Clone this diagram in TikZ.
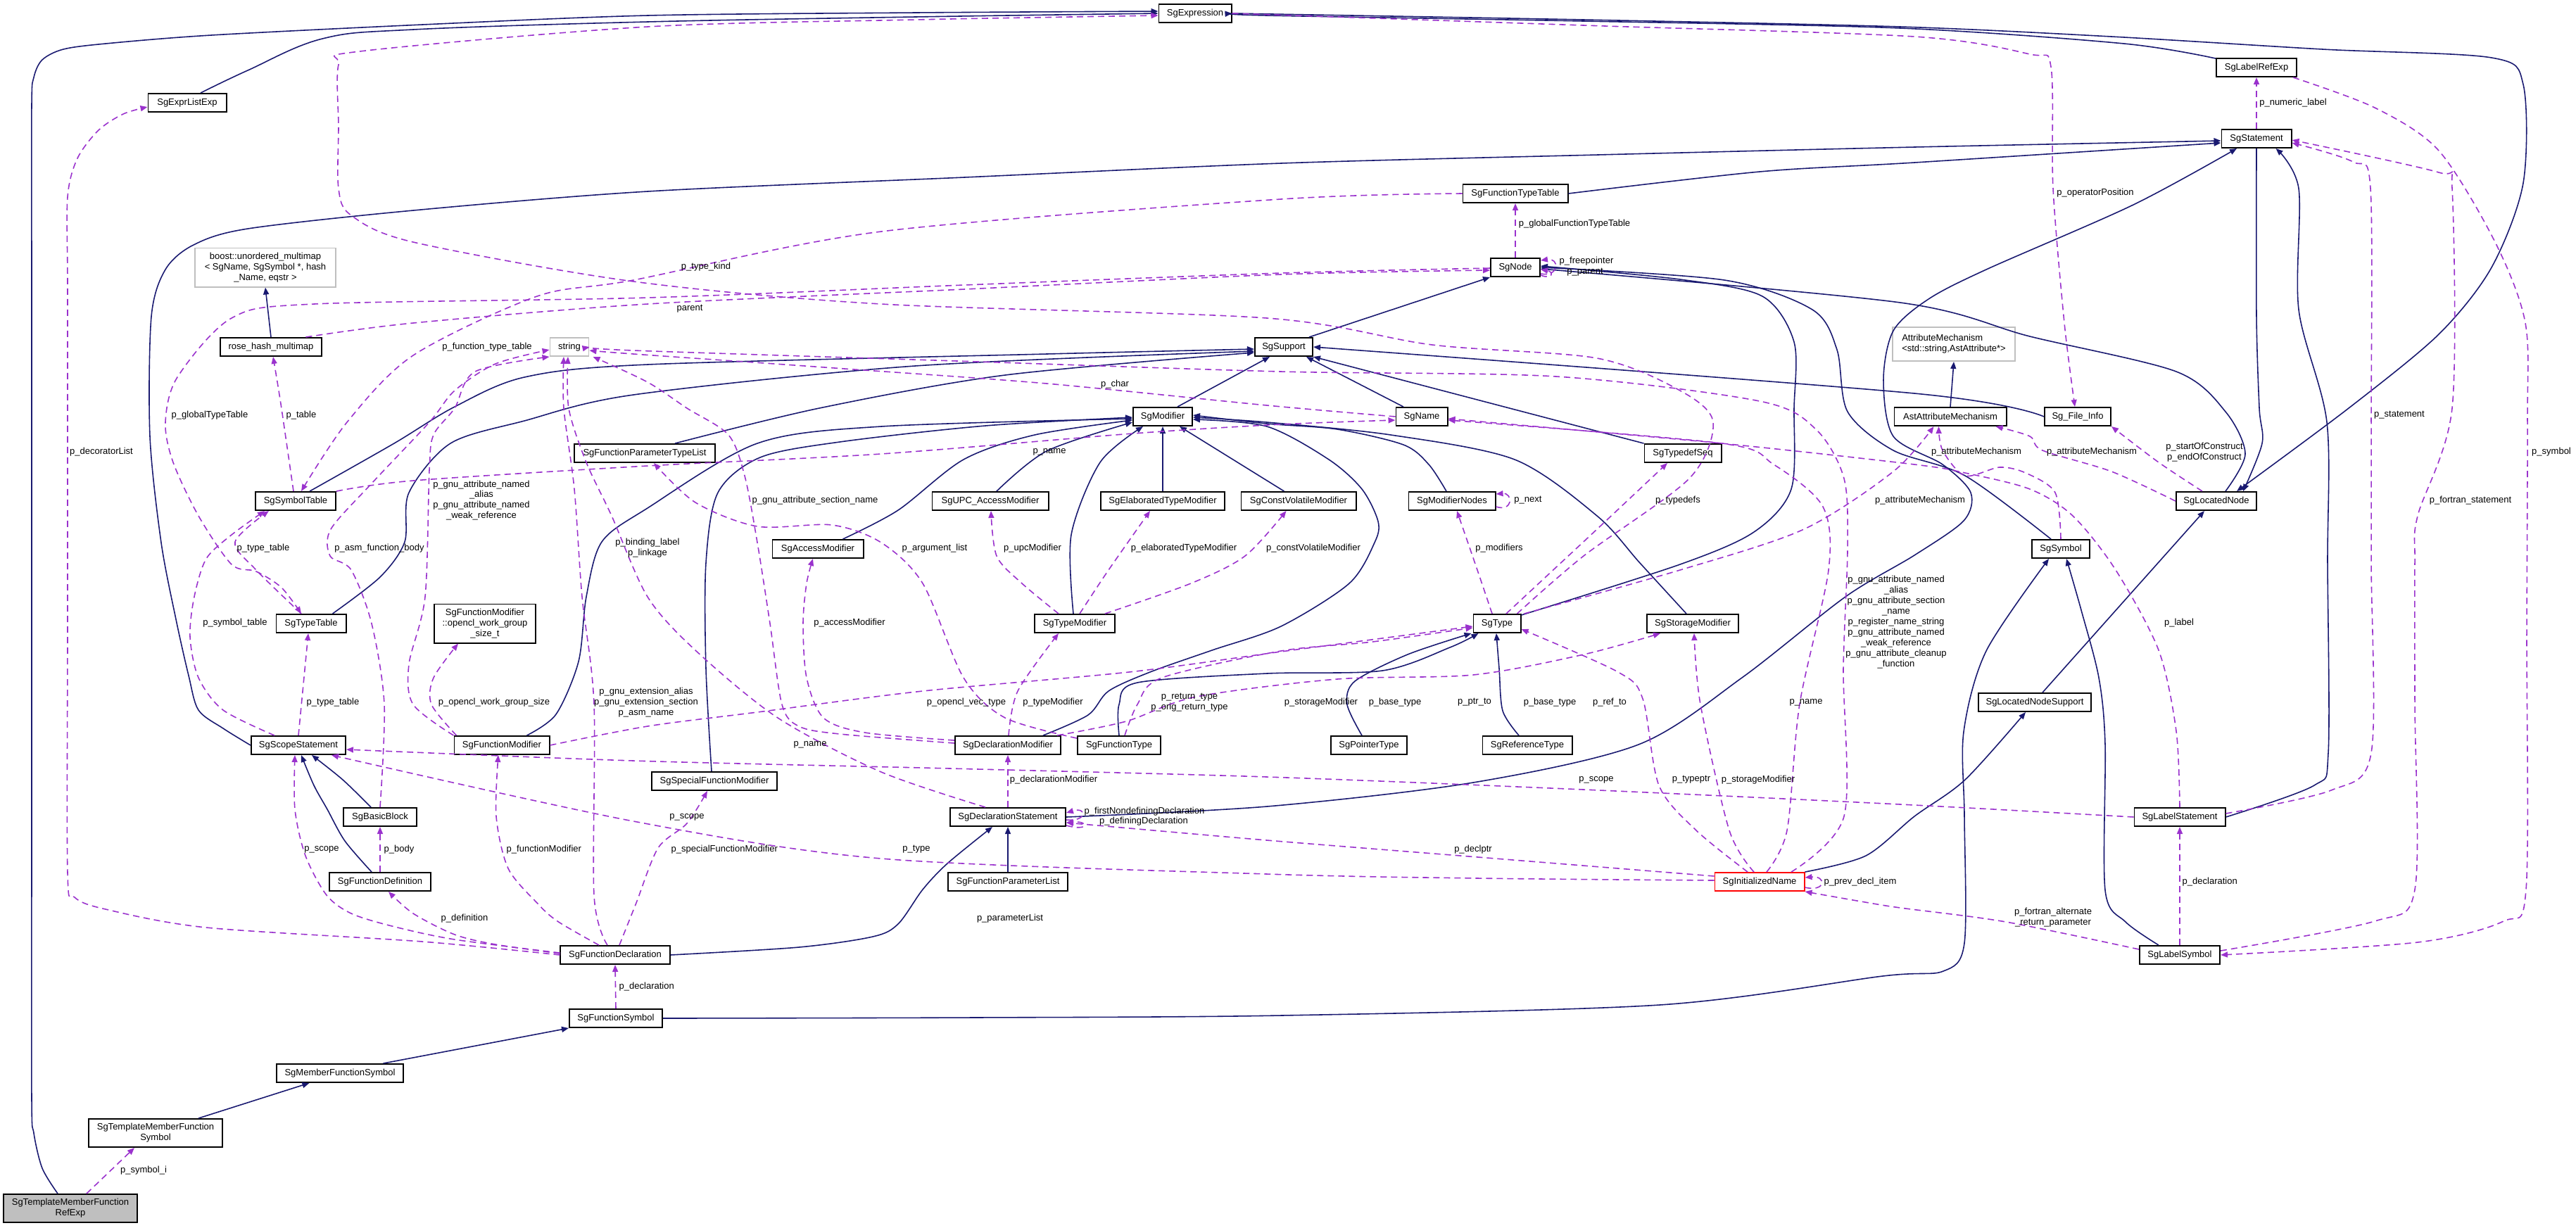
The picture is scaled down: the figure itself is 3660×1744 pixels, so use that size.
\documentclass[tikz,border=0pt]{standalone}
\usepackage{fontspec}
\setmainfont{Liberation Sans}
\usetikzlibrary{arrows.meta, calc}
\definecolor{navy}{HTML}{191970}
\definecolor{orchid}{HTML}{9A32CD}
\newcommand{\dxfont}{\fontsize{3.7}{4.25}\selectfont}

\begin{document}
\begin{tikzpicture}[
    x=0.01cm, y=-0.01cm,
    >={Triangle[length=1mm,width=0.8mm]},
    class node/.style={rectangle,draw=black,fill=white,line width=0.55pt,font=\dxfont,inner sep=0pt,minimum height=0.26cm,align=center},
    ext node/.style={class node,draw=black!25},
    lbl/.style={font=\dxfont,inner sep=0pt,align=center},
    inh/.style={->,draw=navy,line width=0.45pt},
    dep/.style={->,draw=orchid,line width=0.45pt,dash pattern=on 0.09cm off 0.06cm}
]
\useasboundingbox (0,0) rectangle (3660,1744);

% classes
\node[class node, minimum width=1.03cm] (expr) at (1698,19) {SgExpression};
\node[class node, minimum width=1.11cm] (exprlist) at (266,146) {SgExprListExp};
\node[class node, minimum width=1.14cm] (labelref) at (3206,96) {SgLabelRefExp};
\node[class node, minimum width=0.99cm] (stmt) at (3206,197) {SgStatement};
\node[class node, minimum width=1.49cm] (ftypetable) at (2153,275) {SgFunctionTypeTable};
\node[class node, minimum width=0.70cm] (sgnode) at (2153,380) {SgNode};
\node[ext node, minimum width=1.99cm, minimum height=0.55cm] (boostmap) at (377,380) {boost::unordered\_multimap\\< SgName, SgSymbol *, hash\\\_Name, eqstr >};
\node[class node, minimum width=1.43cm] (rosehash) at (385,493) {rose\_hash\_multimap};
\node[ext node, minimum width=0.55cm] (string) at (809,493) {string};
\node[class node, minimum width=0.82cm] (support) at (1824,493) {SgSupport};
\node[ext node, minimum width=1.74cm, minimum height=0.48cm, align=left] (attrmech) at (2776,489) {AttributeMechanism\\<std::string,AstAttribute*>};
\node[class node, minimum width=0.84cm] (modifier) at (1652,592) {SgModifier};
\node[class node, minimum width=0.73cm] (sgname) at (2020,592) {SgName};
\node[class node, minimum width=1.59cm] (astattr) at (2771,592) {AstAttributeMechanism};
\node[class node, minimum width=0.94cm] (fileinfo) at (2952,592) {Sg\_File\_Info};
\node[class node, minimum width=1.99cm] (fptl) at (916,644) {SgFunctionParameterTypeList};
\node[class node, minimum width=1.09cm] (typedefseq) at (2391,644) {SgTypedefSeq};
\node[class node, minimum width=1.14cm] (symtab) at (420,712) {SgSymbolTable};
\node[class node, minimum width=1.65cm] (upcmod) at (1407,712) {SgUPC\_AccessModifier};
\node[class node, minimum width=1.76cm] (elabmod) at (1652,712) {SgElaboratedTypeModifier};
\node[class node, minimum width=1.63cm] (cvmod) at (1845,712) {SgConstVolatileModifier};
\node[class node, minimum width=1.23cm] (modnodes) at (2063,712) {SgModifierNodes};
\node[class node, minimum width=1.14cm] (locnode) at (3149,712) {SgLocatedNode};
\node[class node, minimum width=1.29cm] (accmod) at (1162,780) {SgAccessModifier};
\node[class node, minimum width=0.82cm] (symbol) at (2928,780) {SgSymbol};
\node[class node, minimum width=0.99cm] (typetab) at (442,886) {SgTypeTable};
\node[class node, minimum width=1.43cm, minimum height=0.55cm] (openclsize) at (689,886) {SgFunctionModifier\\::opencl\_work\_group\\\_size\_t};
\node[class node, minimum width=1.14cm] (typemod) at (1527,886) {SgTypeModifier};
\node[class node, minimum width=0.67cm] (sgtype) at (2127,886) {SgType};
\node[class node, minimum width=1.30cm] (storagemod) at (2405,886) {SgStorageModifier};
\node[class node, minimum width=1.60cm] (locsupport) at (2891,998) {SgLocatedNodeSupport};
\node[class node, minimum width=1.34cm] (scopestmt) at (424,1059) {SgScopeStatement};
\node[class node, minimum width=1.35cm] (funcmod) at (713,1059) {SgFunctionModifier};
\node[class node, minimum width=1.50cm] (declmod) at (1432,1059) {SgDeclarationModifier};
\node[class node, minimum width=1.18cm] (functype) at (1590,1059) {SgFunctionType};
\node[class node, minimum width=1.08cm] (ptrtype) at (1945,1059) {SgPointerType};
\node[class node, minimum width=1.27cm] (reftype) at (2170,1059) {SgReferenceType};
\node[class node, minimum width=1.78cm] (specfmod) at (1015,1110) {SgSpecialFunctionModifier};
\node[class node, minimum width=1.04cm] (basicblock) at (540,1161) {SgBasicBlock};
\node[class node, minimum width=1.64cm] (declstmt) at (1432,1161) {SgDeclarationStatement};
\node[class node, minimum width=1.29cm] (labelstmt) at (3097,1161) {SgLabelStatement};
\node[class node, minimum width=1.43cm] (funcdef) at (540,1253) {SgFunctionDefinition};
\node[class node, minimum width=1.70cm] (fparlist) at (1432,1253) {SgFunctionParameterList};
\node[class node, minimum width=1.27cm, draw=red] (initname) at (2500,1253) {SgInitializedName};
\node[class node, minimum width=1.55cm] (funcdecl) at (874,1357) {SgFunctionDeclaration};
\node[class node, minimum width=1.14cm] (labelsym) at (3097,1357) {SgLabelSymbol};
\node[class node, minimum width=1.32cm] (funcsym) at (875,1447) {SgFunctionSymbol};
\node[class node, minimum width=1.79cm] (memfuncsym) at (483,1525) {SgMemberFunctionSymbol};
\node[class node, minimum width=1.89cm, minimum height=0.40cm] (tmfsym) at (221,1610) {SgTemplateMemberFunction\\Symbol};
\node[class node, minimum width=1.89cm, minimum height=0.40cm, fill=black!25] (focusnode) at (100,1717) {SgTemplateMemberFunction\\RefExp};

% inheritance
\draw[inh] plot[smooth,tension=.6] coordinates {($(exprlist.north)+(19,0)$) (352,100) (458,55) (587,42) (920,31) (1300,24) (expr.west)};
\draw[inh] plot[smooth,tension=.5] coordinates {($(focusnode.north)+(-18,0)$) (60,1660) (48,1610) (45,1560) (45,1200) (45,800) (45,400) (45,150) (48,110) (60,85) (90,70) (150,62) (300,50) (600,35) (920,22) (1300,18) ($(expr.west)+(0,-3)$)};
\draw[inh] plot[smooth,tension=.5] coordinates {($(labelref.north west)+(0,1)$) (3018,62) (2700,40) (2250,30) (1800,22) (expr.east)};
\draw[inh] plot[smooth,tension=.5] coordinates {(expr.east) (2250,28) (2700,38) (3000,52) (3300,70) (3540,82) (3585,120) (3585,260) (3540,380) (3465,475) (3337,580) ($(locnode.north)+(29,0)$)};
\draw[inh] plot[smooth,tension=.5] coordinates {(stmt.south) (3206,450) (3210,580) (3214,630) ($(locnode.north east)+(-20,0)$)};
\draw[inh] plot[smooth,tension=.5] coordinates {($(locnode.north)+(13,0)$) (3190,645) (3162,585) (3092,528) (2884,478) (2700,430) ($(sgnode.east)+(0,2)$)};
\draw[inh] ($(locsupport.north)+(11,0)$) -- ($(locnode.south)+(-17,0)$);
\draw[inh] ($(support.north east)+(-6,0)$) -- (sgnode.south west);
\draw[inh] plot[smooth,tension=.5] coordinates {($(sgtype.north east)+(0,2)$) (2387,802) (2492,756) (2545,695) (2549,580) (2549,486) (2504,421) (2387,397) ($(sgnode.east)+(0,-2)$)};
\draw[inh] plot[smooth,tension=.5] coordinates {($(symbol.north)+(-14,0)$) (2792,676) (2690,640) (2625,585) (2610,497) (2575,440) (2450,398) (sgnode.east)};
\draw[inh] ($(modifier.north east)+(-22,0)$) -- ($(support.south west)+(22,0)$);
\draw[inh] ($(sgname.north)+(-26,0)$) -- ($(support.south)+(32,0)$);
\draw[inh] (typedefseq.north west) -- (support.south east);
\draw[inh] plot[smooth,tension=.5] coordinates {(fileinfo.west) (2720,559) (support.east)};
\draw[inh] plot[smooth,tension=.5] coordinates {($(symtab.north east)+(-38,0)$) (560,630) (646,578) (745,536) (920,518) (1487,503) ($(support.west)+(0,3)$)};
\draw[inh] plot[smooth,tension=.5] coordinates {($(typetab.north east)+(-20,0)$) (540,820) (575,770) (581,700) (640,630) (745,598) (900,561) (1300,520) ($(support.west)+(0,6)$)};
\draw[inh] plot[smooth,tension=.5] coordinates {($(fptl.north)+(43,0)$) (1164,580) (1428,533) ($(support.west)+(0,8)$)};
\draw[inh] (rosehash.north) -- (boostmap.south);
\draw[inh] (astattr.north) -- (attrmech.south);
\draw[inh] plot[smooth,tension=.5] coordinates {($(funcmod.north east)+(-33,0)$) (790,1015) (822,940) (833,848) (855,770) (920,722) (1076,630) (1252,606) ($(modifier.west)+(0,3)$)};
\draw[inh] plot[smooth,tension=.5] coordinates {($(specfmod.north)+(-4,0)$) (1003,950) (1003,800) (1020,700) (1080,650) (1193,628) (1400,605) ($(modifier.west)+(0,1)$)};
\draw[inh] plot[smooth,tension=.5] coordinates {($(accmod.north east)+(-30,0)$) (1276,725) (1369,653) (1470,618) ($(modifier.west)+(0,5)$)};
\draw[inh] plot[smooth,tension=.5] coordinates {($(upcmod.north)+(9,0)$) (1487,641) ($(modifier.west)+(0,8)$)};
\draw[inh] plot[smooth,tension=.5] coordinates {($(typemod.north)+(-2,0)$) (1522,760) (1563,657) ($(modifier.south west)+(15,0)$)};
\draw[inh] (elabmod.north) -- (modifier.south);
\draw[inh] ($(cvmod.north west)+(62,0)$) -- ($(modifier.south east)+(-19,0)$);
\draw[inh] plot[smooth,tension=.5] coordinates {($(declmod.north east)+(-26,0)$) (1546,1016) (1575,982) (1634,955) (1722,924) (1820,890) (1917,829) (1953,771) (1958,741) (1935,695) (1888,653) (1800,606) ($(modifier.east)+(0,4)$)};
\draw[inh] plot[smooth,tension=.5] coordinates {($(storagemod.north)+(-9,0)$) (2330,800) (2269,733) (2152,653) (1976,618) (1800,600) ($(modifier.east)+(0,1)$)};
\draw[inh] plot[smooth,tension=.5] coordinates {($(modnodes.north)+(-8,0)$) (2030,660) (1994,632) (1900,610) (1800,602) ($(modifier.east)+(0,-2)$)};
\draw[inh] plot[smooth,tension=.5] coordinates {($(ptrtype.north)+(-10,0)$) (1914,1001) (1925,968) (2000,930) ($(sgtype.south west)+(-2,0)$)};
\draw[inh] plot[smooth,tension=.5] coordinates {($(reftype.north)+(-12,0)$) (2135,1010) (2130,950) ($(sgtype.south)+(-1,0)$)};
\draw[inh] plot[smooth,tension=.5] coordinates {(functype.north) (1590,1001) (1616,970) (1800,957) (1964,953) (2060,920) ($(sgtype.south west)+(8,0)$)};
\draw[inh] plot[smooth,tension=.5] coordinates {(declstmt.east) (1800,1146) (2093,1112) (2328,1058) (2475,963) (2622,848) (2720,789) (2790,740) (2800,700) (2760,660) (2690,620) (2676,540) (2690,470) (2740,425) (2822,383) (3031,291) ($(stmt.south)+(-28,0)$)};
\draw[inh] plot[smooth,tension=.5] coordinates {(scopestmt.west) (317,1035) (282,1009) (268,960) (250,880) (229,771) (213,620) (215,450) (235,383) (275,348) (352,325) (587,299) (920,272) (1370,252) (1820,232) (2270,220) (2720,209) ($(stmt.west)+(0,3)$)};
\draw[inh] plot[smooth,tension=.5] coordinates {(ftypetable.east) (2500,244) (2720,231) ($(stmt.west)+(0,6)$)};
\draw[inh] plot[smooth,tension=.5] coordinates {(labelstmt.east) (3288,1116) (3308,1070) (3307,800) (3306,600) (3266,440) (3266,268) ($(stmt.south east)+(-23,0)$)};
\draw[inh] plot[smooth,tension=.5] coordinates {($(labelsym.north)+(-30,0)$) (3020,1310) (2991,1265) (2991,1058) (2982,963) (2957,867) ($(symbol.south)+(8,0)$)};
\draw[inh] plot[smooth,tension=.5] coordinates {(funcsym.east) (1380,1446) (1820,1443) (2358,1428) (2675,1387) (2761,1380) (2791,1340) (2791,1160) (2790,1040) (2822,925) ($(symbol.south)+(-17,0)$)};
\draw[inh] ($(memfuncsym.north east)+(-29,0)$) -- (funcsym.south west);
\draw[inh] ($(tmfsym.north)+(61,0)$) -- ($(memfuncsym.south west)+(47,0)$);
\draw[inh] plot[smooth,tension=.5] coordinates {($(funcdef.north)+(-12,0)$) (490,1195) (465,1150) (446,1116) ($(scopestmt.south)+(4,0)$)};
\draw[inh] plot[smooth,tension=.5] coordinates {($(basicblock.north)+(-13,0)$) (487,1108) ($(scopestmt.south)+(19,0)$)};
\draw[inh] (fparlist.north) -- (declstmt.south);
\draw[inh] plot[smooth,tension=.5] coordinates {(funcdecl.east) (1135,1346) (1240,1331) (1276,1313) (1311,1264) (1346,1227) ($(declstmt.south)+(-22,0)$)};
\draw[inh] plot[smooth,tension=.5] coordinates {(initname.north east) (2651,1216) (2720,1160) (2792,1108) ($(locsupport.south)+(-13,0)$)};

% members
\draw[dep] ($(focusnode.north)+(23,0)$) -- ($(tmfsym.south)+(-30,0)$);
\draw[dep] plot[smooth,tension=.5] coordinates {(funcdecl.west) (600,1338) (293,1318) (150,1292) (106,1275) (96,1240) (96,900) (96,600) (96,400) (96,280) (110,225) (140,185) (175,162) ($(exprlist.west)+(0,6)$)};
\draw[dep] (funcsym.north) -- (funcdecl.south);
\draw[dep] plot[smooth,tension=.5] coordinates {($(funcdecl.west)+(0,-2)$) (704,1342) (646,1328) (587,1298) ($(funcdef.south)+(12,0)$)};
\draw[dep] plot[smooth,tension=.5] coordinates {($(funcdecl.west)+(0,-3)$) (646,1335) (557,1316) (499,1298) (464,1272) (434,1216) (419,1150) ($(scopestmt.south)+(-5,0)$)};
\draw[dep] (funcdef.north) -- (basicblock.south);
\draw[dep] plot[smooth,tension=.5] coordinates {($(funcdecl.north)+(-23,0)$) (792,1309) (763,1283) (722,1234) (705,1160) ($(funcmod.south)+(-5,0)$)};
\draw[dep] plot[smooth,tension=.5] coordinates {($(funcdecl.north)+(6,0)$) (904,1283) (935,1205) (976,1170) ($(specfmod.south)+(-10,0)$)};
\draw[dep] plot[smooth,tension=.5] coordinates {($(funcdecl.north)+(-11,0)$) (844,1272) (844,1001) (827,848) (816,695) (801,580) ($(string.south)+(-8,0)$)};
\draw[dep] plot[smooth,tension=.5] coordinates {($(declstmt.north)+(-32,0)$) (1252,1097) (1105,1020) (988,924) (920,848) (869,733) (833,657) (808,580) ($(string.south)+(-2,0)$)};
\draw[dep] plot[smooth,tension=.5] coordinates {($(declmod.west)+(0,-3)$) (1193,1043) (1135,1032) (1111,1001) (1094,886) (1076,771) (1058,676) (1035,618) (976,580) (920,543) ($(string.south east)+(5,0)$)};
\draw[dep] plot[smooth,tension=.5] coordinates {($(declmod.west)+(0,-7)$) (1229,1041) (1170,1020) (1146,963) (1141,886) (1146,829) ($(accmod.south)+(-7,0)$)};
\draw[dep] plot[smooth,tension=.5] coordinates {($(declmod.north)+(1,0)$) (1446,982) ($(typemod.south)+(-23,0)$)};
\draw[dep] plot[smooth,tension=.5] coordinates {($(declmod.north east)+(-6,0)$) (1600,1025) (1700,990) (1900,965) (2093,959) (2250,930) ($(storagemod.south west)+(20,0)$)};
\draw[dep] (declstmt.north) -- (declmod.south);
\draw[dep] ($(declstmt.east)+(0,4)$) .. controls (1545,1168) and (1545,1146) .. ($(declstmt.east)+(0,-6)$);
\draw[dep] ($(declstmt.south east)+(0,-2)$) .. controls (1548,1182) and (1548,1166) .. ($(declstmt.east)+(0,8)$);
\draw[dep] plot[smooth,tension=.5] coordinates {($(initname.west)+(0,-8)$) (2100,1218) (1800,1194) ($(declstmt.east)+(0,8)$)};
\draw[dep] plot[smooth,tension=.5] coordinates {($(initname.west)+(0,-2)$) (2100,1248) (1800,1242) (1252,1220) (900,1167) ($(scopestmt.south east)+(-21,0)$)};
\draw[dep] plot[smooth,tension=.5] coordinates {(labelstmt.west) (2700,1143) (2250,1122) (1800,1104) (1350,1092) (900,1081) ($(scopestmt.east)+(0,6)$)};
\draw[dep] ($(initname.east)+(0,8)$) .. controls (2595,1268) and (2595,1244) .. ($(initname.east)+(0,-6)$);
\draw[dep] plot[smooth,tension=.5] coordinates {($(labelsym.west)+(0,-8)$) (2850,1310) (2700,1290) (2650,1282) (initname.south east)};
\draw[dep] plot[smooth,tension=.5] coordinates {($(initname.north)+(-17,0)$) (2410,1180) (2357,1116) (2334,993) (2299,955) ($(sgtype.east)+(0,8)$)};
\draw[dep] plot[smooth,tension=.5] coordinates {($(initname.north)+(-8,0)$) (2457,1180) (2416,1001) ($(storagemod.south)+(2,0)$)};
\draw[dep] plot[smooth,tension=.5] coordinates {($(initname.north)+(10,0)$) (2539,1180) (2557,1000) (2598,810) (2590,720) (2520,660) (2446,630) ($(sgname.east)+(0,5)$)};
\draw[dep] plot[smooth,tension=.5] coordinates {($(initname.north)+(45,0)$) (2620,1160) (2619,950) (2625,780) (2620,680) (2580,610) (2500,570) (2211,535) (1820,528) (1360,513) (900,498) (string.east)};
\draw[dep] plot[smooth,tension=.5] coordinates {(sgname.west) (1800,576) (1487,545) (1200,524) (900,503) ($(string.east)+(0,5)$)};
\draw[dep] plot[smooth,tension=.5] coordinates {(funcmod.north west) (587,1001) (581,944) (604,848) (610,668) (616,618) (646,580) (675,528) (string.south west)};
\draw[dep] plot[smooth,tension=.5] coordinates {($(funcmod.north west)+(4,0)$) (613,1001) (616,963) ($(openclsize.south)+(-38,0)$)};
\draw[dep] plot[smooth,tension=.5] coordinates {(funcmod.east) (920,1032) (1076,1012) (1311,982) (1604,955) (1820,926) ($(sgtype.west)+(0,4)$)};
\draw[dep] plot[smooth,tension=.5] coordinates {($(functype.north)+(8,0)$) (1616,1001) (1651,963) (1820,925) (1950,912) ($(sgtype.west)+(0,6)$)};
\draw[dep] plot[smooth,tension=.5] coordinates {($(functype.west)+(0,-10)$) (1428,1020) (1369,963) (1311,829) (1252,771) (1182,746) (1076,748) (988,714) ($(fptl.south)+(13,0)$)};
\draw[dep] plot[smooth,tension=.5] coordinates {($(typemod.north)+(-23,0)$) (1452,829) (1416,790) ($(upcmod.south)+(1,0)$)};
\draw[dep] plot[smooth,tension=.5] coordinates {($(typemod.north)+(7,0)$) (1575,810) ($(elabmod.south)+(-18,0)$)};
\draw[dep] plot[smooth,tension=.5] coordinates {($(typemod.north east)+(-15,0)$) (1692,829) (1769,790) ($(cvmod.south west)+(65,0)$)};
\draw[dep] plot[smooth,tension=.5] coordinates {($(sgtype.north)+(-7,0)$) (2099,810) ($(modnodes.south)+(7,0)$)};
\draw[dep] ($(modnodes.east)+(0,8)$) .. controls (2150,728) and (2150,700) .. ($(modnodes.north east)+(0,4)$);
\draw[dep] plot[smooth,tension=.5] coordinates {($(sgtype.north)+(13,0)$) (2269,752) ($(typedefseq.south)+(-22,0)$)};
\draw[dep] plot[smooth,tension=.5] coordinates {($(sgtype.north east)+(4,0)$) (2387,810) (2563,752) (2690,670) ($(astattr.south west)+(57,0)$)};
\draw[dep] plot[smooth,tension=.5] coordinates {(symbol.north) (2920,700) (2878,672) (2841,664) (2792,676) (2760,640) ($(astattr.south west)+(64,0)$)};
\draw[dep] plot[smooth,tension=.5] coordinates {(locnode.west) (3000,670) (2902,640) (2884,620) ($(astattr.south east)+(-16,0)$)};
\draw[dep] plot[smooth,tension=.5] coordinates {($(locnode.north)+(-20,0)$) (3067,657) (fileinfo.south east)};
\draw[dep] plot[smooth,tension=.5] coordinates {(labelstmt.north) (3092,1039) (3067,924) (3006,810) (2945,733) (2884,695) (2792,672) (2720,660) (2446,630) ($(sgname.east)+(0,3)$)};
\draw[dep] plot[smooth,tension=.5] coordinates {($(labelstmt.east)+(0,-5)$) (3312,1123) (3369,1070) (3369,800) (3369,600) (3368,268) (3343,230) ($(stmt.east)+(0,6)$)};
\draw[dep] plot[smooth,tension=.5] coordinates {($(labelsym.east)+(0,-6)$) (3374,1309) (3431,1264) (3431,1000) (3431,800) (3435,733) (3484,580) (3484,268) (3465,245) ($(stmt.east)+(0,2)$)};
\draw[dep] plot[smooth,tension=.5] coordinates {($(labelref.south east)+(-6,0)$) (3374,153) (3465,214) (3545,344) (3588,459) (3591,600) (3590,900) (3589,1264) (3557,1309) (3435,1339) (labelsym.east)};
\draw[dep] (stmt.north) -- (labelref.south);
\draw[dep] plot[smooth,tension=.5] coordinates {(expr.east) (2250,36) (2720,52) (2884,77) (2914,95) (2917,268) (2933,459) ($(fileinfo.north)+(-4,0)$)};
\draw[dep] (labelsym.north) -- (labelstmt.south);
\draw[dep] (sgnode.north) -- (ftypetable.south);
\draw[dep] ($(sgnode.east)+(0,9)$) .. controls (2216,394) and (2216,366) .. ($(sgnode.north east)+(0,4)$);
\draw[dep] ($(sgnode.east)+(0,11)$) .. controls (2206,398) and (2208,386) .. ($(sgnode.east)+(0,3)$);
\draw[dep] plot[smooth,tension=.5] coordinates {($(rosehash.north east)+(-23,0)$) (587,459) (920,432) (1370,411) (1820,390) ($(sgnode.west)+(0,4)$)};
\draw[dep] plot[smooth,tension=.5] coordinates {($(sgnode.west)+(0,1)$) (1820,388) (1370,405) (920,423) (446,432) (329,452) (252,536) (235,600) (246,657) (282,733) (329,802) (364,812) (400,835) ($(typetab.north)+(-14,0)$)};
\draw[dep] plot[smooth,tension=.5] coordinates {($(symtab.north)+(-3,0)$) (399,574) ($(rosehash.south)+(3,0)$)};
\draw[dep] plot[smooth,tension=.5] coordinates {(ftypetable.west) (1820,283) (1252,329) (900,398) (763,421) (587,505) (493,600) ($(symtab.north)+(8,0)$)};
\draw[dep] plot[smooth,tension=.5] coordinates {($(sgtype.north east)+(-6,0)$) (2250,790) (2400,680) (2434,600) (2387,555) (2269,509) (2035,490) (1800,452) (1252,432) (900,400) (587,344) (499,306) (481,268) (481,180) (481,92) (511,73) (920,38) (1300,28) ($(expr.west)+(0,3)$)};
\draw[dep] plot[smooth,tension=.5] coordinates {($(scopestmt.north)+(-34,0)$) (317,1009) (282,963) (270,905) (276,848) (293,794) (329,760) ($(symtab.south)+(-44,0)$)};
\draw[dep] plot[smooth,tension=.5] coordinates {($(typetab.north)+(-14,0)$) (364,810) (334,770) ($(symtab.south)+(-38,0)$)};
\draw[dep] (scopestmt.north) -- ($(typetab.south)+(-4,0)$);
\draw[dep] plot[smooth,tension=.5] coordinates {(basicblock.north) (546,1001) (528,886) (499,810) (469,790) (470,752) (528,687) (610,600) (646,555) (704,517) ($(string.west)+(0,4)$)};
\draw[dep] plot[smooth,tension=.5] coordinates {($(symtab.north east)+(0,0)$) (587,683) (920,662) (1252,645) (1610,616) (1820,603) ($(sgname.west)+(0,5)$)};

% labels
\node[lbl] (l_symi) at (204,1663) {p\_symbol\_i};
\node[lbl] (l_decor) at (144,642) {p\_decoratorList};
\node[lbl, anchor=west] (l_decl) at (879,1402) {p\_declaration};
\node[lbl] (l_defn) at (660,1305) {p\_definition};
\node[lbl] (l_scope1) at (457,1207) {p\_scope};
\node[lbl, anchor=west] (l_body) at (545,1207) {p\_body};
\node[lbl, anchor=west] (l_fmod) at (719,1207) {p\_functionModifier};
\node[lbl, anchor=west] (l_sfm) at (953,1207) {p\_specialFunctionModifier};
\node[lbl] (l_type) at (1302,1207) {p\_type};
\node[lbl] (l_parlist) at (1435,1305) {p\_parameterList};
\node[lbl] (l_declptr) at (2093,1207) {p\_declptr};
\node[lbl] (l_prev) at (2643,1253) {p\_prev\_decl\_item};
\node[lbl] (l_fortalt) at (2917,1304) {p\_fortran\_alternate\\\_return\_parameter};
\node[lbl, anchor=west] (l_ldecl) at (3100,1253) {p\_declaration};
\node[lbl] (l_scope2) at (976,1161) {p\_scope};
\node[lbl] (l_firstnd) at (1626,1153) {p\_firstNondefiningDeclaration};
\node[lbl] (l_defdecl) at (1625,1167) {p\_definingDeclaration};
\node[lbl] (l_declmod) at (1497,1108) {p\_declarationModifier};
\node[lbl] (l_scope3) at (2268,1108) {p\_scope};
\node[lbl] (l_typeptr) at (2403,1108) {p\_typeptr};
\node[lbl] (l_stor2) at (2498,1108) {p\_storageModifier};
\node[lbl] (l_typetable2) at (473,998) {p\_type\_table};
\node[lbl] (l_oclsize) at (702,998) {p\_opencl\_work\_group\_size};
\node[lbl] (l_gnuext) at (918,998) {p\_gnu\_extension\_alias\\p\_gnu\_extension\_section\\p\_asm\_name};
\node[lbl] (l_oclvec) at (1373,998) {p\_opencl\_vec\_type};
\node[lbl] (l_tmod) at (1496,998) {p\_typeModifier};
\node[lbl] (l_ret) at (1690,998) {p\_return\_type\\p\_orig\_return\_type};
\node[lbl] (l_stor1) at (1877,998) {p\_storageModifier};
\node[lbl] (l_base1) at (1982,998) {p\_base\_type};
\node[lbl] (l_ptr) at (2095,998) {p\_ptr\_to};
\node[lbl] (l_base2) at (2202,998) {p\_base\_type};
\node[lbl] (l_ref) at (2287,998) {p\_ref\_to};
\node[lbl] (l_name3) at (2566,998) {p\_name};
\node[lbl] (l_name2) at (1151,1058) {p\_name};
\node[lbl] (l_symtab) at (334,885) {p\_symbol\_table};
\node[lbl] (l_accmod) at (1207,885) {p\_accessModifier};
\node[lbl] (l_label) at (3096,885) {p\_label};
\node[lbl] (l_gnuattr) at (2694,884) {p\_gnu\_attribute\_named\\\_alias\\p\_gnu\_attribute\_section\\\_name\\p\_register\_name\_string\\p\_gnu\_attribute\_named\\\_weak\_reference\\p\_gnu\_attribute\_cleanup\\\_function};
\node[lbl] (l_typetable1) at (374,779) {p\_type\_table};
\node[lbl] (l_asmbody) at (539,779) {p\_asm\_function\_body};
\node[lbl] (l_binding) at (920,779) {p\_binding\_label\\p\_linkage};
\node[lbl] (l_arglist) at (1328,779) {p\_argument\_list};
\node[lbl] (l_upc) at (1467,779) {p\_upcModifier};
\node[lbl] (l_elab) at (1682,779) {p\_elaboratedTypeModifier};
\node[lbl] (l_cv) at (1866,779) {p\_constVolatileModifier};
\node[lbl] (l_mods) at (2130,779) {p\_modifiers};
\node[lbl] (l_gnunamed) at (684,711) {p\_gnu\_attribute\_named\\\_alias\\p\_gnu\_attribute\_named\\\_weak\_reference};
\node[lbl] (l_gnusect) at (1158,711) {p\_gnu\_attribute\_section\_name};
\node[lbl] (l_next) at (2171,711) {p\_next};
\node[lbl] (l_typedefs) at (2384,711) {p\_typedefs};
\node[lbl] (l_attr1) at (2728,711) {p\_attributeMechanism};
\node[lbl] (l_fstmt) at (3510,711) {p\_fortran\_statement};
\node[lbl] (l_name1) at (1491,642) {p\_name};
\node[lbl] (l_attr2) at (2808,642) {p\_attributeMechanism};
\node[lbl] (l_attr3) at (2972,642) {p\_attributeMechanism};
\node[lbl] (l_soc) at (3132,643) {p\_startOfConstruct\\p\_endOfConstruct};
\node[lbl] (l_symbol) at (3625,642) {p\_symbol};
\node[lbl] (l_gtt) at (298,590) {p\_globalTypeTable};
\node[lbl] (l_table) at (428,590) {p\_table};
\node[lbl] (l_stmt) at (3409,590) {p\_statement};
\node[lbl] (l_char) at (1584,546) {p\_char};
\node[lbl] (l_ftt) at (692,493) {p\_function\_type\_table};
\node[lbl] (l_parent) at (980,439) {parent};
\node[lbl] (l_typekind) at (1003,379) {p\_type\_kind};
\node[lbl] (l_free) at (2254,371) {p\_freepointer};
\node[lbl] (l_par) at (2252,387) {p\_parent};
\node[lbl] (l_gftt) at (2237,318) {p\_globalFunctionTypeTable};
\node[lbl] (l_oppos) at (2977,274) {p\_operatorPosition};
\node[lbl] (l_numlab) at (3258,146) {p\_numeric\_label};

\end{tikzpicture}
\end{document}
